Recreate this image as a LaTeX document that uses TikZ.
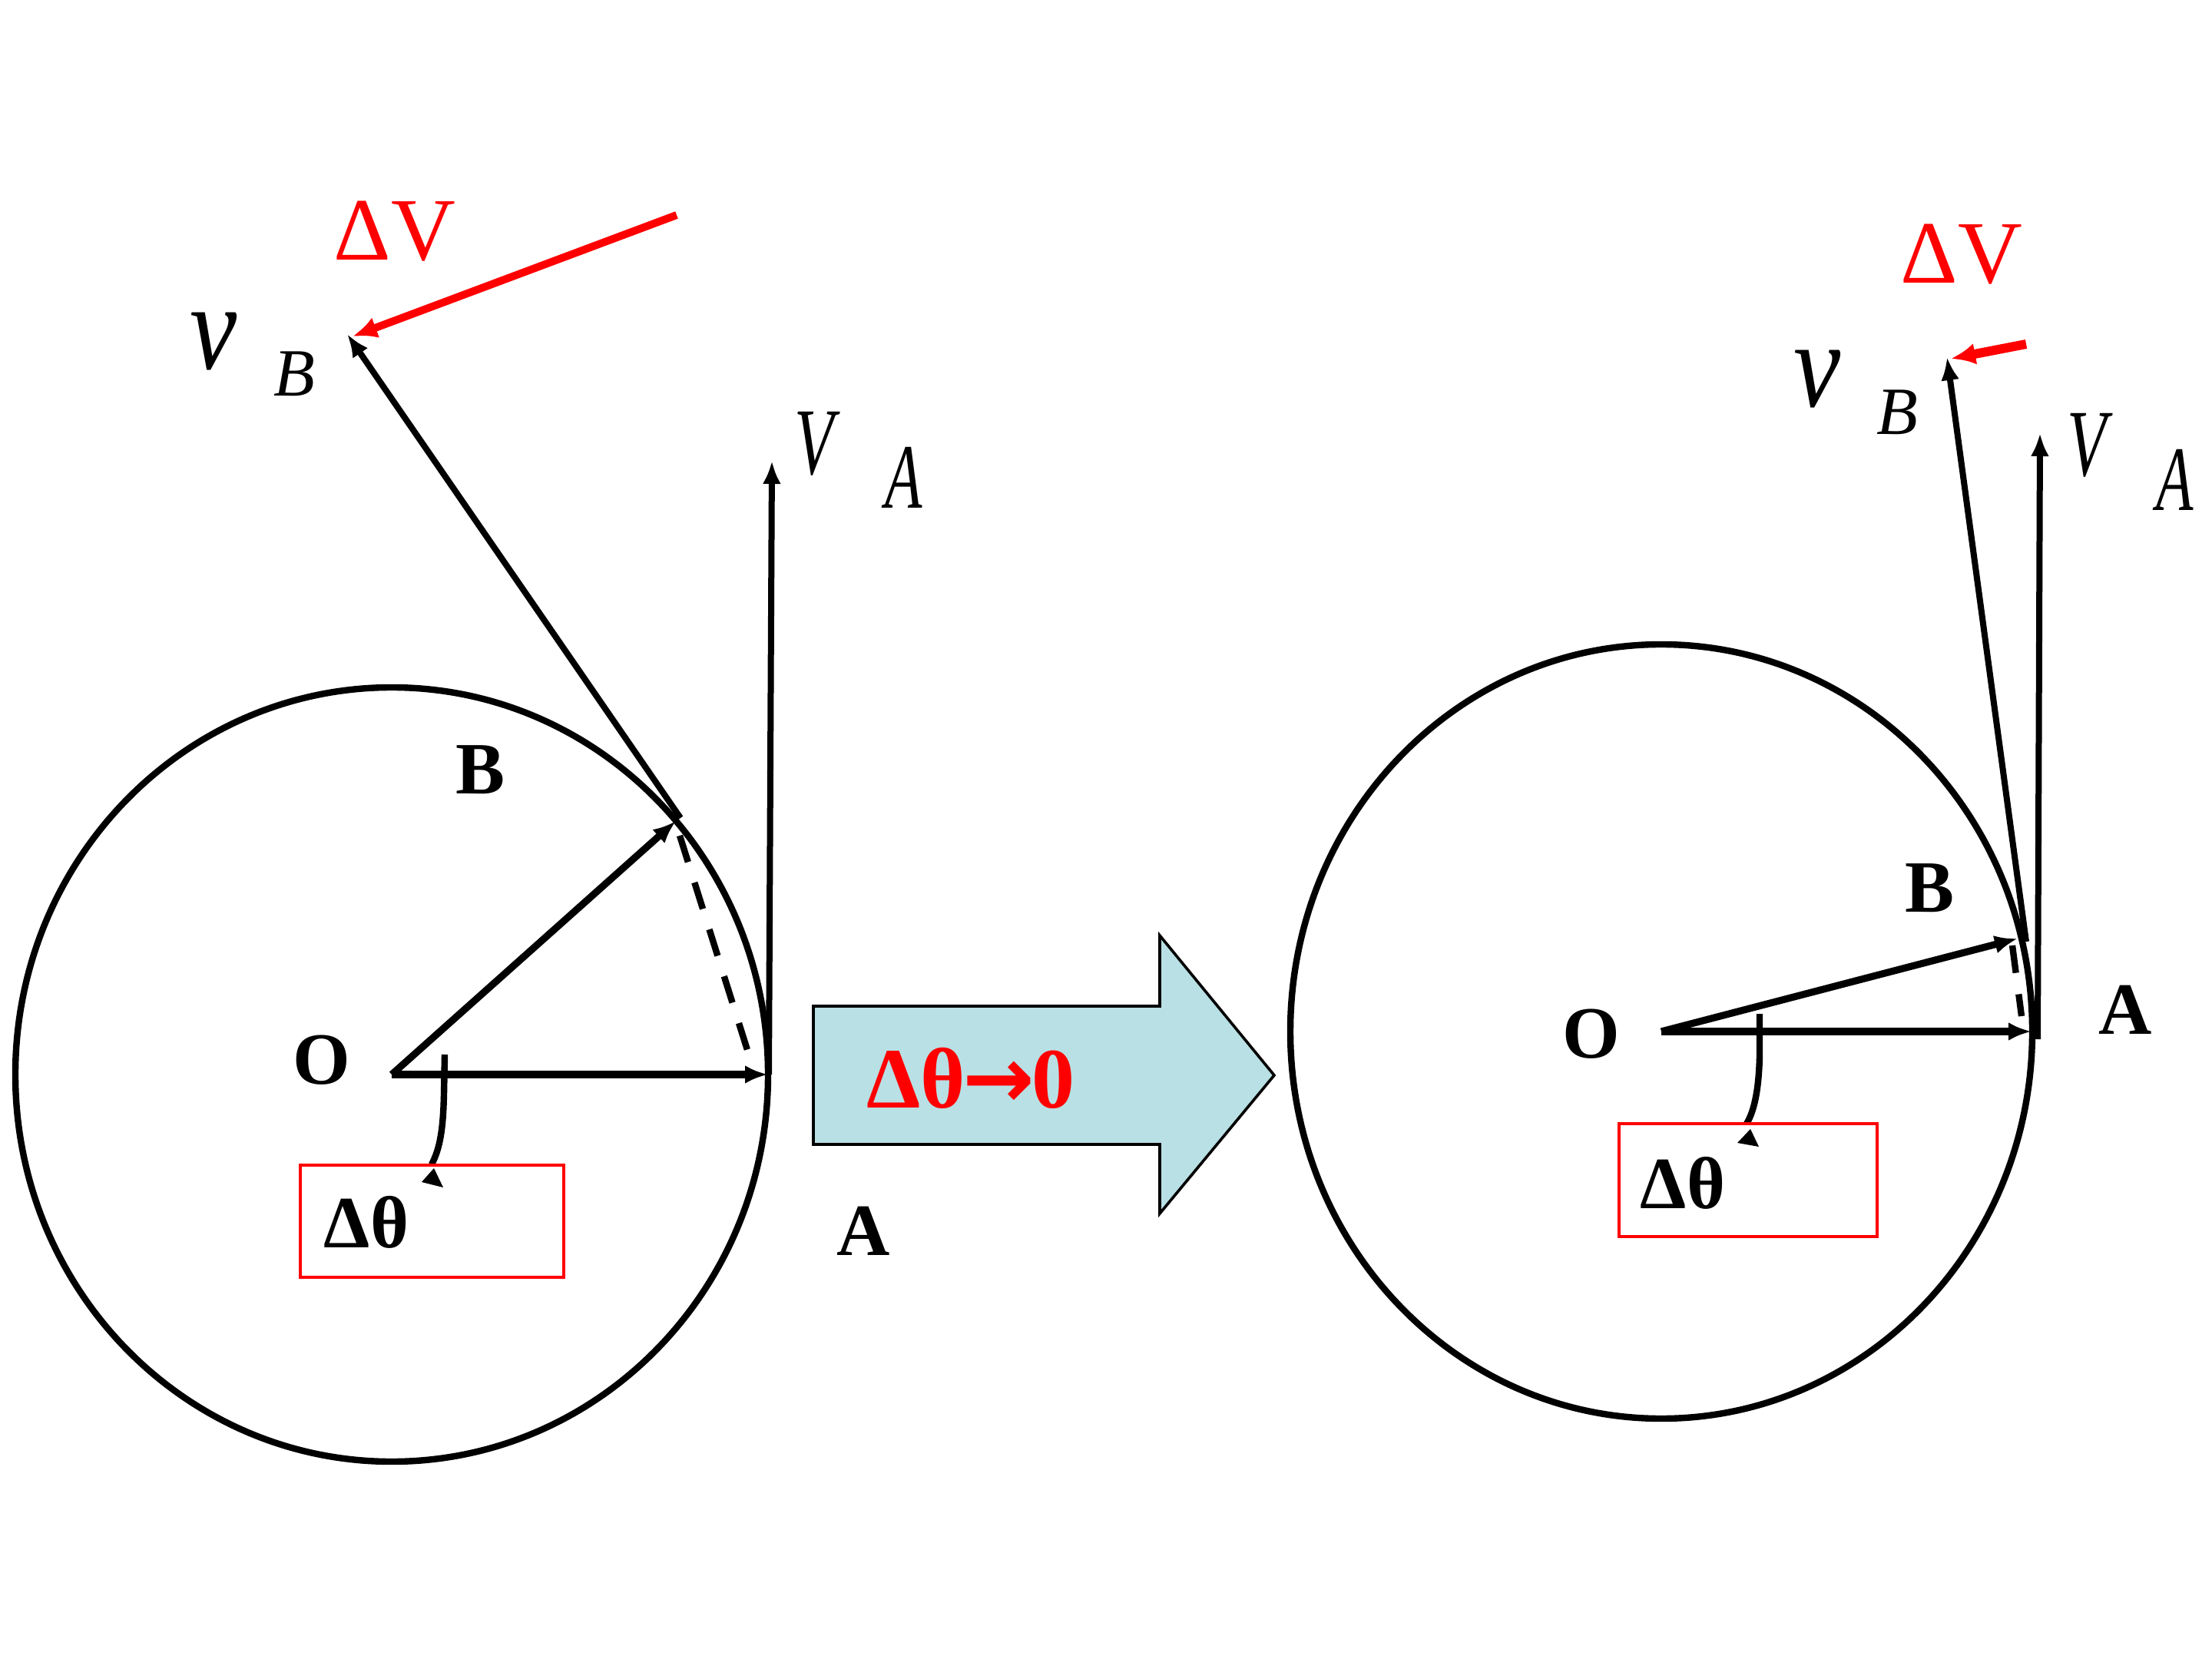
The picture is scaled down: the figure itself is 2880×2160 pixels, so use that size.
\documentclass[tikz,border=0pt]{standalone}
\usepackage{fontspec}
\setmainfont{Liberation Serif}
\newfontfamily\arrowfont{DejaVu Sans}
\usetikzlibrary{arrows.meta}
\definecolor{blockfill}{RGB}{185,224,228}
\definecolor{pptred}{RGB}{255,0,0}
\begin{document}
\begin{tikzpicture}[x=0.25pt,y=-0.25pt,
  rim/.style={line width=2.1pt},
  vec/.style={line width=2.3pt,-{Latex[length=7.5pt,width=6pt]}},
  dvec/.style={line width=2.5pt,pptred,-{Latex[length=8pt,width=7pt]}},
  chord/.style={line width=2.1pt,dash pattern=on 9pt off 7pt},
  tick/.style={line width=2.1pt},
  lbl/.style={inner sep=0pt,font=\fontsize{24}{28}\selectfont\bfseries},
  dvl/.style={inner sep=0pt,text=pptred,font=\fontsize{29}{34}\selectfont},
  itl/.style={inner sep=0pt,font=\itshape},
  anglebox/.style={draw=pptred,line width=0.8pt}]
\useasboundingbox (0,0) rectangle (2880,2160);

% ---------------- left figure ----------------
\coordinate (O1) at (510,1399);
\coordinate (A1) at (1000,1399);
\coordinate (B1) at (886,1065);
\coordinate (B1t) at (880,1069);
\coordinate (vB1) at (452,435);
\coordinate (dv1s) at (881,280);
\coordinate (dv1e) at (459,438);
\coordinate (vA1s) at (1001,1399);
\coordinate (vA1) at (1005,600);
\coordinate (ch1s) at (885,1088);
\coordinate (ch1e) at (979,1386);
\coordinate (t1s) at (579,1373);
\coordinate (t1e) at (562,1516);

\draw[rim] (O1) ellipse [x radius=122.5pt, y radius=126pt];
\draw[vec] (O1) -- (B1t);
\draw[vec] (O1) -- (A1);
\draw[vec,line width=2pt] (B1) -- (vB1);
\draw[vec,line width=2pt] (vA1s) -- (vA1);
\draw[dvec] (dv1s) -- (dv1e);
\draw[chord] (ch1s) -- (ch1e);
\draw[tick] (t1s) -- (578,1425) .. controls (577,1470) and (573,1495) .. (t1e);
\fill (565,1521) -- (549,1539) -- (577,1546) -- cycle;
\draw[anglebox] (391,1517) rectangle (734,1663);
\node[lbl] (th1) at (477,1591) {Δθ};
\node[lbl] (o1) at (419,1380) {O};
\node[lbl] (b1) at (626,1002) {B};
\node[lbl] (a1) at (1124,1603) {A};
\node[dvl] (dvlab1) at (514,301) {ΔV};
\node[itl] (v1) at (278,445) {\fontsize{40}{44}\selectfont\scalebox{0.86}[1]{v}};
\node[itl] (vb1) at (383,487) {\fontsize{22}{26}\selectfont B};
\node[itl] (V1) at (1060,578) {\fontsize{31}{36}\selectfont\scalebox{0.68}[1]{V}};
\node[itl] (va1) at (1177,622) {\fontsize{30}{34}\selectfont\scalebox{0.66}[1]{A}};

% ---------------- block arrow ----------------
\draw[fill=blockfill,line width=0.9pt] (1059,1310) -- (1510,1310) -- (1510,1218)
  -- (1659,1400) -- (1510,1580) -- (1510,1490) -- (1059,1490) -- cycle;
\node[inner sep=0pt,text=pptred,font=\fontsize{28}{32}\selectfont\bfseries] (lim) at (1264,1404)
  {Δθ\kern-1pt{\arrowfont\bfseries →}\kern-1pt 0};

% ---------------- right figure ----------------
\coordinate (O2) at (2163,1343);
\coordinate (A2) at (2645,1343);
\coordinate (B2) at (2638,1226);
\coordinate (B2t) at (2627,1222);
\coordinate (vB2) at (2535,465);
\coordinate (dv2s) at (2638,448);
\coordinate (dv2e) at (2540,467);
\coordinate (vA2s) at (2653,1353);
\coordinate (vA2) at (2656,564);
\coordinate (ch2s) at (2620,1231);
\coordinate (ch2e) at (2632,1323);
\coordinate (t2s) at (2291,1320);
\coordinate (t2e) at (2274,1463);

\draw[rim] (O2) ellipse [x radius=120.75pt, y radius=126pt];
\draw[vec] (O2) -- (B2t);
\draw[vec] (O2) -- (A2);
\draw[vec,line width=2pt] (B2) -- (vB2);
\draw[vec,line width=2pt] (vA2s) -- (vA2);
\draw[dvec,line width=3pt] (dv2s) -- (dv2e);
\draw[chord] (ch2s) -- (ch2e);
\draw[tick] (t2s) -- (2291,1375) .. controls (2290,1415) and (2285,1445) .. (t2e);
\fill (2279,1470) -- (2262,1488) -- (2290,1493) -- cycle;
\draw[anglebox] (2108,1463) rectangle (2444,1610);
\node[lbl] (th2) at (2191,1540) {Δθ};
\node[lbl] (o2) at (2072,1346) {O};
\node[lbl] (b2) at (2512,1156) {B};
\node[lbl] (a2) at (2767,1315) {A};
\node[dvl] (dvlab2) at (2554,331) {ΔV};
\node[itl] (v2) at (2366,494) {\fontsize{40}{44}\selectfont\scalebox{0.86}[1]{v}};
\node[itl] (vb2) at (2470,537) {\fontsize{22}{26}\selectfont B};
\node[itl] (V2) at (2717,580) {\fontsize{31}{36}\selectfont\scalebox{0.68}[1]{V}};
\node[itl] (va2) at (2832,625) {\fontsize{30}{34}\selectfont\scalebox{0.66}[1]{A}};
\end{tikzpicture}
\end{document}
